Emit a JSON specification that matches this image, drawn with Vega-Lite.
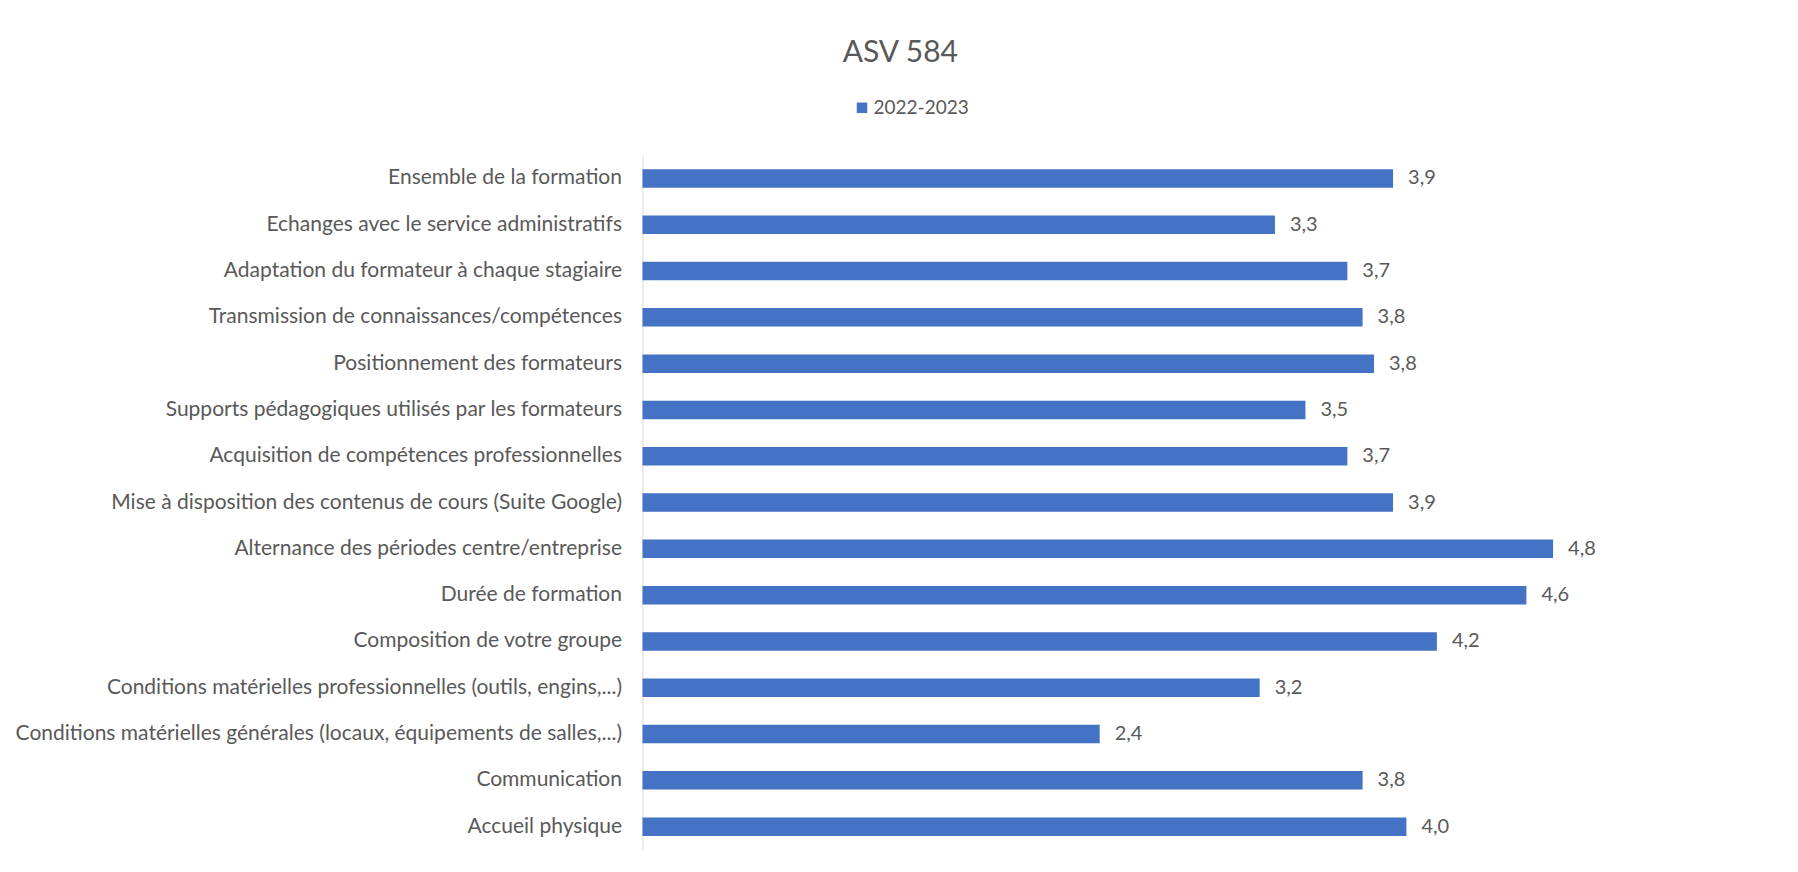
{
  "$schema": "https://vega.github.io/schema/vega-lite/v6.json",
  "autosize": {"type": "none"},
  "width": 1143,
  "height": 694.5,
  "padding": {"left": 642.5, "top": 155.3, "right": 12.5, "bottom": 22.2},
  "background": "white",
  "title": {
    "text": "ASV 584",
    "font": "Lato",
    "fontSize": 30,
    "fontWeight": "normal",
    "color": "#595959",
    "anchor": "middle",
    "frame": "bounds",
    "offset": 30
  },
  "data": {
    "values": [
      {"critere": "Ensemble de la formation", "valeur": 3.94, "annee": "2022-2023"},
      {"critere": "Echanges avec le service administratifs", "valeur": 3.32, "annee": "2022-2023"},
      {"critere": "Adaptation du formateur à chaque stagiaire", "valeur": 3.70, "annee": "2022-2023"},
      {"critere": "Transmission de connaissances/compétences", "valeur": 3.78, "annee": "2022-2023"},
      {"critere": "Positionnement des formateurs", "valeur": 3.84, "annee": "2022-2023"},
      {"critere": "Supports pédagogiques utilisés par les formateurs", "valeur": 3.48, "annee": "2022-2023"},
      {"critere": "Acquisition de compétences professionnelles", "valeur": 3.70, "annee": "2022-2023"},
      {"critere": "Mise à disposition des contenus de cours (Suite Google)", "valeur": 3.94, "annee": "2022-2023"},
      {"critere": "Alternance des périodes centre/entreprise", "valeur": 4.78, "annee": "2022-2023"},
      {"critere": "Durée de formation", "valeur": 4.64, "annee": "2022-2023"},
      {"critere": "Composition de votre groupe", "valeur": 4.17, "annee": "2022-2023"},
      {"critere": "Conditions matérielles professionnelles (outils, engins,...)", "valeur": 3.24, "annee": "2022-2023"},
      {"critere": "Conditions matérielles générales (locaux, équipements de salles,...)", "valeur": 2.40, "annee": "2022-2023"},
      {"critere": "Communication", "valeur": 3.78, "annee": "2022-2023"},
      {"critere": "Accueil physique", "valeur": 4.01, "annee": "2022-2023"}
    ]
  },
  "encoding": {
    "y": {
      "field": "critere",
      "type": "nominal",
      "sort": null,
      "scale": {"paddingInner": 0.6, "paddingOuter": 0.3},
      "axis": {
        "title": null,
        "ticks": false,
        "domainColor": "#D9D9D9",
        "domainWidth": 1,
        "labelFont": "Lato",
        "labelFontSize": 21,
        "labelColor": "#595959",
        "labelPadding": 21,
        "labelLimit": 800,
        "grid": false
      }
    },
    "x": {
      "field": "valeur",
      "type": "quantitative",
      "scale": {"domain": [0, 6], "nice": false},
      "axis": null
    }
  },
  "layer": [
    {
      "mark": {"type": "bar", "color": "#4472C4"},
      "encoding": {
        "color": {
          "field": "annee",
          "type": "nominal",
          "scale": {"range": ["#4472C4"]},
          "legend": {
            "title": null,
            "orient": "none",
            "legendX": 210,
            "legendY": -57,
            "symbolType": "square",
            "symbolSize": 110,
            "symbolStrokeWidth": 0,
            "labelFont": "Lato",
            "labelFontSize": 19,
            "labelColor": "#595959",
            "labelOffset": 2
          }
        }
      }
    },
    {
      "mark": {
        "type": "text",
        "align": "left",
        "baseline": "middle",
        "dx": 15,
        "font": "Lato",
        "fontSize": 20,
        "color": "#595959"
      },
      "encoding": {
        "text": {"field": "valeur", "type": "quantitative", "format": ".1f"}
      }
    }
  ],
  "config": {
    "view": {"stroke": null},
    "locale": {
      "number": {
        "decimal": ",",
        "thousands": "\u00a0",
        "grouping": [3],
        "currency": ["", "\u00a0€"]
      }
    }
  }
}
